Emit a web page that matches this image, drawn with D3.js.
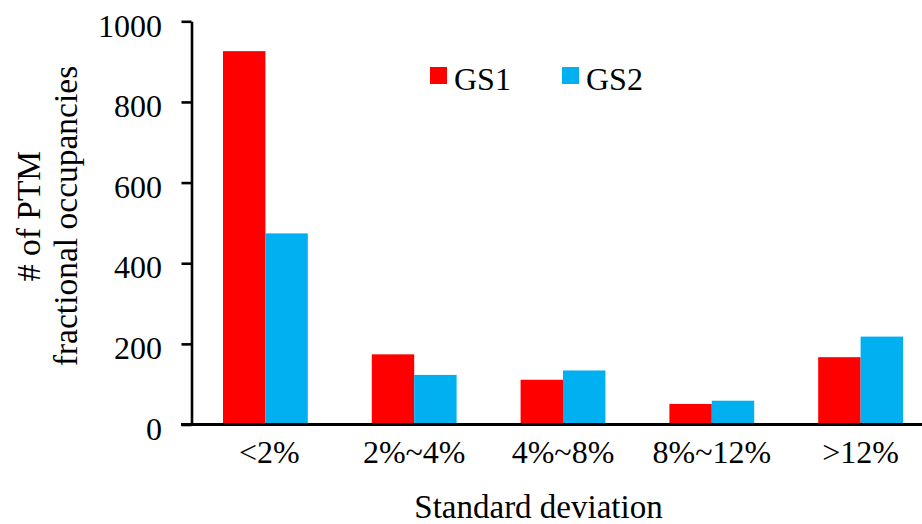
<!DOCTYPE html>
<html>
<head>
<meta charset="utf-8">
<script src="https://cdn.jsdelivr.net/npm/d3@7"></script>
<style>
  html, body { margin: 0; padding: 0; background: #fff; }
  svg { display: block; }
  text { font-family: "Liberation Serif", "Times New Roman", Times, serif; fill: #000; }
</style>
</head>
<body>
<svg id="chart" width="922" height="524"></svg>
<script>
// Counts of PTM fractional occupancies per standard-deviation bin
const categories = ["<2%", "2%~4%", "4%~8%", "8%~12%", ">12%"];
const seriesNames = ["GS1", "GS2"];
const gs1 = [926, 174, 111, 51, 167];
const gs2 = [474, 123, 134, 59, 218];
const yTicks = [0, 200, 400, 600, 800, 1000];
const colors = ["#FF0000", "#00B0F0"];

const serif = "'Liberation Serif', 'Times New Roman', Times, serif";
const svg = d3.select("#chart");

const x = d3.scaleBand()
  .domain(categories)
  .range([191, 935])
  .paddingInner(0.43)
  .paddingOuter(0.215);

const xs = d3.scaleBand()
  .domain(seriesNames)
  .range([0, x.bandwidth()])
  .padding(0);

const y = d3.scaleLinear().domain([0, 1000]).range([424.5, 21.3]);

const rows = categories.map((c, i) => ({ cat: c, values: [gs1[i], gs2[i]] }));

// bars
const groups = svg.append("g").selectAll("g")
  .data(rows)
  .join("g")
  .attr("transform", d => `translate(${x(d.cat)},0)`);

groups.selectAll("rect")
  .data(d => d.values.map((v, j) => ({ name: seriesNames[j], v, j })))
  .join("rect")
  .attr("x", d => xs(d.name))
  .attr("width", xs.bandwidth())
  .attr("y", d => y(d.v))
  .attr("height", d => y(0) - y(d.v))
  .attr("fill", d => colors[d.j]);

// y axis
const yAxis = svg.append("g")
  .attr("transform", "translate(191.5,0)")
  .call(d3.axisLeft(y)
    .tickValues(yTicks)
    .tickFormat(d3.format("d"))
    .tickSize(10)
    .tickSizeOuter(0)
    .tickPadding(19.5));
yAxis.attr("font-family", serif);
yAxis.select(".domain").attr("stroke", "#000").attr("stroke-width", 2.6);
yAxis.selectAll(".tick line").attr("stroke", "#000").attr("stroke-width", 2.6);
yAxis.selectAll(".tick text")
  .attr("font-size", 32)
  .attr("font-family", serif)
  .attr("dy", "0.46em");

// x axis baseline
svg.append("line")
  .attr("x1", 181).attr("x2", 922)
  .attr("y1", y(0)).attr("y2", y(0))
  .attr("stroke", "#000").attr("stroke-width", 2.8);

// category labels
svg.append("g").selectAll("text")
  .data(categories)
  .join("text")
  .attr("x", d => x(d) + x.bandwidth() / 2 + (d === "<2%" ? 4 : 0))
  .attr("y", 463)
  .attr("text-anchor", "middle")
  .attr("font-family", serif)
  .attr("font-size", 32)
  .text(d => d);

// axis titles
svg.append("text")
  .attr("x", 538.5).attr("y", 518)
  .attr("text-anchor", "middle")
  .attr("font-family", serif)
  .attr("font-size", 33)
  .text("Standard deviation");

svg.append("text")
  .attr("transform", "translate(40,216) rotate(-90)")
  .attr("text-anchor", "middle")
  .attr("font-family", serif)
  .attr("font-size", 33.5)
  .text("# of PTM");
svg.append("text")
  .attr("transform", "translate(77,216) rotate(-90)")
  .attr("text-anchor", "middle")
  .attr("font-family", serif)
  .attr("font-size", 33.5)
  .text("fractional occupancies");

// legend
const legendX = [430, 562];
const legend = svg.append("g").selectAll("g")
  .data(seriesNames)
  .join("g")
  .attr("transform", (d, i) => `translate(${legendX[i]},67)`);
legend.append("rect")
  .attr("width", 17).attr("height", 17)
  .attr("fill", (d, i) => colors[i]);
legend.append("text")
  .attr("x", 24).attr("y", 23)
  .attr("font-family", serif)
  .attr("font-size", 32)
  .text(d => d);
</script>
</body>
</html>
